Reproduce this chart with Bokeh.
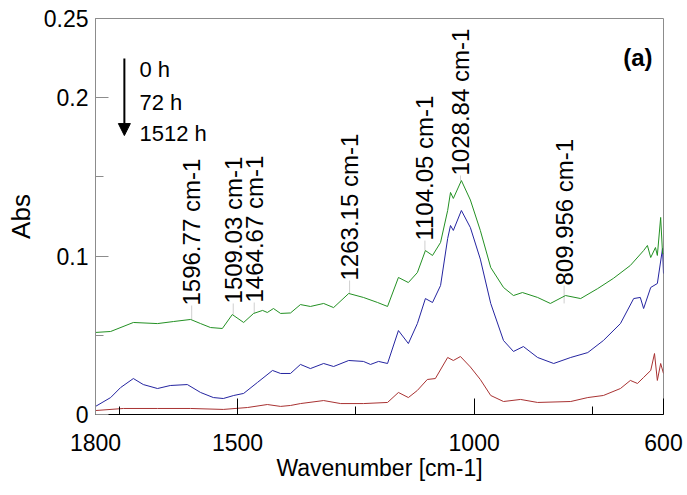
from bokeh.plotting import figure
from bokeh.models import FixedTicker, Range1d, Arrow, NormalHead, ColumnDataSource
from bokeh.embed import file_html
from bokeh.resources import INLINE
from bokeh.core.properties import value

# ---------------- data ----------------
wn_green = [1800, 1768, 1720, 1669, 1635, 1599, 1578, 1557, 1532, 1511, 1487, 1466,
            1447, 1437, 1424, 1409, 1388, 1367, 1346, 1318, 1297, 1265, 1234, 1204,
            1183, 1160, 1139, 1120, 1103, 1088, 1071, 1056, 1050, 1044, 1027, 1008,
            987, 965, 938, 917, 898, 866, 839, 807, 775, 739, 706, 670, 642, 634,
            627, 617, 613, 606, 602, 600]
abs_green = [0.0518, 0.0524, 0.0581, 0.0574, 0.0587, 0.0600, 0.0574, 0.0549, 0.0543,
             0.0631, 0.0581, 0.0638, 0.0657, 0.0644, 0.0669, 0.0638, 0.0641, 0.0694,
             0.0682, 0.0701, 0.0675, 0.0764, 0.0739, 0.0707, 0.0682, 0.0865, 0.0833,
             0.0896, 0.1035, 0.1004, 0.1086, 0.1288, 0.1402, 0.1364, 0.1477, 0.1354,
             0.1162, 0.0928, 0.0802, 0.0751, 0.0770, 0.0739, 0.0701, 0.0751, 0.0732,
             0.0795, 0.0859, 0.0941, 0.1035, 0.1067, 0.0991, 0.1054, 0.1004, 0.1244,
             0.1016, 0.1016]

wn_blue = [1800, 1768, 1747, 1720, 1699, 1669, 1642, 1606, 1578, 1551, 1530, 1508,
           1487, 1458, 1426, 1409, 1388, 1367, 1346, 1318, 1297, 1265, 1234, 1219,
           1202, 1183, 1160, 1139, 1120, 1103, 1088, 1071, 1056, 1050, 1044, 1027,
           1008, 987, 965, 938, 917, 896, 866, 832, 796, 760, 727, 691, 663, 649,
           642, 627, 613, 602, 600]
abs_blue = [0.0051, 0.0107, 0.0170, 0.0227, 0.0189, 0.0164, 0.0183, 0.0189, 0.0139,
            0.0107, 0.0101, 0.0120, 0.0133, 0.0202, 0.0278, 0.0259, 0.0259, 0.0316,
            0.0290, 0.0322, 0.0303, 0.0341, 0.0335, 0.0316, 0.0335, 0.0322, 0.0530,
            0.0448, 0.0574, 0.0732, 0.0707, 0.0814, 0.1111, 0.1193, 0.1162, 0.1288,
            0.1180, 0.0981, 0.0701, 0.0467, 0.0398, 0.0429, 0.0360, 0.0322, 0.0360,
            0.0391, 0.0467, 0.0574, 0.0732, 0.0739, 0.0669, 0.0802, 0.0827, 0.1048,
            0.0890]

wn_red = [1800, 1741, 1669, 1599, 1530, 1479, 1437, 1409, 1388, 1367, 1318, 1282,
          1234, 1183, 1160, 1139, 1120, 1099, 1082, 1056, 1044, 1029, 1008, 987,
          965, 938, 902, 866, 796, 760, 727, 691, 670, 655, 642, 627, 619, 613,
          606, 600]
abs_red = [0.0025, 0.0038, 0.0038, 0.0038, 0.0032, 0.0044, 0.0063, 0.0051, 0.0057,
           0.0069, 0.0088, 0.0069, 0.0069, 0.0076, 0.0139, 0.0107, 0.0152, 0.0221,
           0.0227, 0.0360, 0.0341, 0.0366, 0.0300, 0.0221, 0.0120, 0.0082, 0.0095,
           0.0076, 0.0082, 0.0107, 0.0120, 0.0164, 0.0215, 0.0196, 0.0234, 0.0278,
           0.0385, 0.0215, 0.0322, 0.0259]

x_ticks = [1800, 1500, 1000, 600]
x_minor_ticks = [1750, 1250, 750]
y_ticks = [0, 0.1, 0.2, 0.25]
y_minor_ticks = [0.05, 0.15]
y_tick_labels = ["0", "0.1", "0.2", "0.25"]

peak_labels = ["1596.77 cm-1", "1509.03 cm-1", "1464.67 cm-1", "1263.15 cm-1",
               "1104.05 cm-1", "1028.84 cm-1", "809.956 cm-1"]
peak_x = [1596.77, 1509.03, 1464.67, 1263.15, 1104.05, 1028.84, 809.956]
peak_label_y = [0.0688, 0.0701, 0.0707, 0.0846, 0.1098, 0.1509, 0.0814]
peak_curve_y = [0.0600, 0.0631, 0.0638, 0.0764, 0.1035, 0.1477, 0.0701]

time_labels = ["0 h", "72 h", "1512 h"]
time_label_x = [1707, 1707, 1707]
time_label_y = [0.2178, 0.1972, 0.1774]

arrow_x = 1739
arrow_y_start = 0.2247
arrow_y_end = 0.1761

panel_label = "(a)"
panel_label_x = 623
panel_label_y = 0.2254

FONT = "Liberation Sans"

# ---------------- figure ----------------
p = figure(width=687, height=495, output_backend="svg", toolbar_location=None,
           x_range=Range1d(1800, 600), y_range=Range1d(0, 0.25),
           min_border_left=95, min_border_right=24, min_border_top=18,
           min_border_bottom=81)
p.background_fill_color = "white"
p.border_fill_color = "white"
p.outline_line_color = "#8c8c8c"
p.grid.visible = False

# faint peak marker lines
p.segment(x0=peak_x, y0=peak_curve_y, x1=peak_x, y1=peak_label_y,
          line_color="#cfcfcf", line_width=1)

# spectra
p.line(wn_red, abs_red, line_color="#a83232", line_width=1)
p.line(wn_blue, abs_blue, line_color="#2424a0", line_width=1)
p.line(wn_green, abs_green, line_color="#239023", line_width=1)

# x axis
xa = p.xaxis[0]
xa.ticker = FixedTicker(ticks=x_ticks, minor_ticks=x_minor_ticks)
xa.axis_label = "Wavenumber [cm-1]"
xa.axis_label_text_font = FONT
xa.axis_label_text_font_style = "normal"
xa.axis_label_text_font_size = "23px"
xa.axis_label_text_color = "black"
xa.axis_label_standoff = 1
xa.major_label_text_font = FONT
xa.major_label_text_font_size = "23px"
xa.major_label_text_color = "black"
xa.major_label_standoff = 19
xa.axis_line_color = "black"
xa.major_tick_line_color = "black"
xa.minor_tick_line_color = "black"
xa.major_tick_in = 16
xa.major_tick_out = 0
xa.minor_tick_in = 8
xa.minor_tick_out = 0

# y axis
ya = p.yaxis[0]
ya.ticker = FixedTicker(ticks=y_ticks, minor_ticks=y_minor_ticks)
ya.major_label_overrides = {t: s for t, s in zip(y_ticks, y_tick_labels)}
ya.axis_label = "Abs"
ya.axis_label_text_font = FONT
ya.axis_label_text_font_style = "normal"
ya.axis_label_text_font_size = "26px"
ya.axis_label_text_color = "black"
ya.axis_label_standoff = 5
ya.major_label_text_font = FONT
ya.major_label_text_font_size = "23px"
ya.major_label_text_color = "black"
ya.major_label_standoff = 7
ya.axis_line_color = "#8c8c8c"
ya.major_tick_line_color = "#8c8c8c"
ya.minor_tick_line_color = "#8c8c8c"
ya.major_tick_in = 13
ya.major_tick_out = 0
ya.minor_tick_in = 8
ya.minor_tick_out = 0

# peak annotations (rotated)
peak_src = ColumnDataSource(dict(x=peak_x, y=peak_label_y, t=peak_labels))
p.text(x="x", y="y", text="t", source=peak_src, angle=1.5708,
       text_font=value(FONT), text_font_size="24px", text_color="black",
       text_align="left", text_baseline="middle")

# time legend
time_src = ColumnDataSource(dict(x=time_label_x, y=time_label_y, t=time_labels))
p.text(x="x", y="y", text="t", source=time_src,
       text_font=value(FONT), text_font_size="22px", text_color="black",
       text_align="left", text_baseline="alphabetic")

p.add_layout(Arrow(end=NormalHead(size=12, fill_color="black", line_color="black"),
                   x_start=arrow_x, y_start=arrow_y_start,
                   x_end=arrow_x, y_end=arrow_y_end,
                   line_color="black", line_width=2))

# panel label
p.text(x=[panel_label_x], y=[panel_label_y], text=[panel_label],
       text_font=value(FONT), text_font_size="24px", text_font_style="bold",
       text_color="black", text_align="right", text_baseline="alphabetic")

open("out.html", "w").write(file_html(p, INLINE))
